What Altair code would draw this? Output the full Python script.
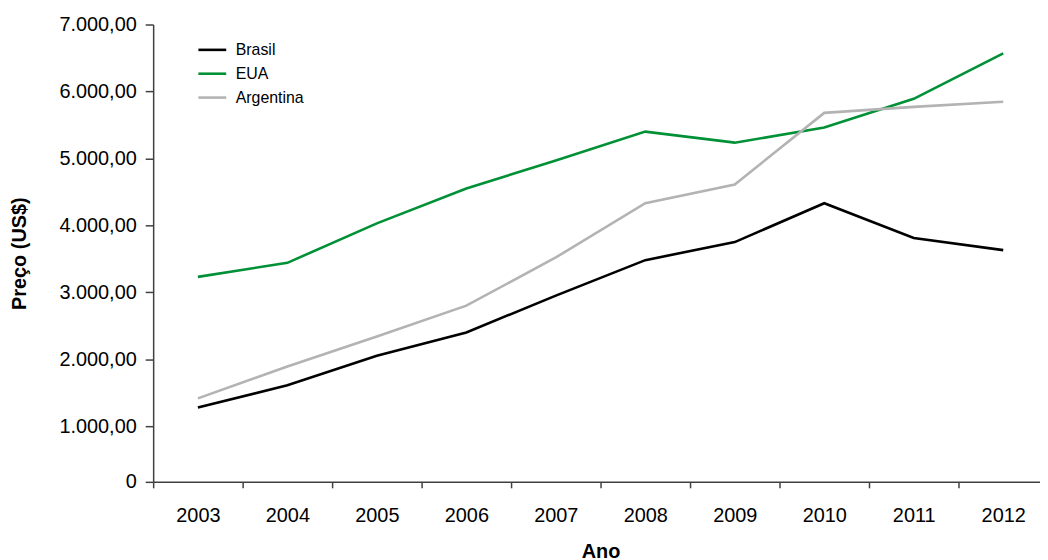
import altair as alt
import pandas as pd

anos = ["2003", "2004", "2005", "2006", "2007", "2008", "2009", "2010", "2011", "2012"]
brasil = [1280, 1610, 2050, 2400, 2950, 3480, 3750, 4330, 3810, 3630]
eua = [3230, 3440, 4030, 4550, 4970, 5400, 5235, 5460, 5890, 6570]
argentina = [1415, 1890, 2340, 2800, 3520, 4330, 4610, 5680, 5770, 5845]

series = ["Brasil", "EUA", "Argentina"]
cores = ["#000000", "#009036", "#b3b3b3"]

rows = []
for nome, vals in zip(series, [brasil, eua, argentina]):
    for a, v in zip(anos, vals):
        rows.append({"Ano": a, "Preço": v, "Série": nome})
df = pd.DataFrame(rows)

y_ticks = [168, 1000, 2000, 3000, 4000, 5000, 6000, 7000]

label_expr = (
    "datum.value < 500 ? '0' : "
    "replace(replace(replace(format(datum.value, ',.2f'), ',', '_'), '.', ','), '_', '.')"
)

chart = (
    alt.Chart(df)
    .mark_line(strokeWidth=2.6)
    .encode(
        x=alt.X(
            "Ano:O",
            sort=anos,
            scale=alt.Scale(type="band", range=[0, 900], paddingInner=0, paddingOuter=0),
            axis=alt.Axis(
                title="Ano",
                labelAngle=0,
                tickBand="extent",
                tickSize=6,
                labelPadding=18,
                titlePadding=16,
                labelFontSize=20,
                titleFontSize=20,
                titleFontWeight="bold",
                titleAnchor="middle",
            ),
        ),
        y=alt.Y(
            "Preço:Q",
            scale=alt.Scale(domain=[168, 7000], nice=False, zero=False),
            axis=alt.Axis(
                title="Preço (US$)",
                values=y_ticks,
                labelExpr=label_expr,
                grid=False,
                tickSize=8,
                labelPadding=9,
                titlePadding=30,
                labelFontSize=20,
                titleFontSize=20,
                titleFontWeight="bold",
            ),
        ),
        color=alt.Color(
            "Série:N",
            sort=series,
            scale=alt.Scale(domain=series, range=cores),
            legend=alt.Legend(
                title=None,
                orient="none",
                legendX=44,
                legendY=10,
                symbolType="stroke",
                symbolSize=784,
                symbolStrokeWidth=2.6,
                labelFontSize=16,
                rowPadding=0,
                labelOffset=8,
            ),
        ),
    )
    .properties(
        width=892,
        height=460,
        autosize=alt.AutoSizeParams(type="none"),
        padding={"left": 146, "top": 15, "right": 0, "bottom": 76},
    )
    .configure(font="Liberation Sans")
    .configure_view(stroke=None)
    .configure_axis(
        domainColor="#404040",
        tickColor="#404040",
        labelColor="#000000",
        titleColor="#000000",
        domainWidth=1.5,
        tickWidth=1.5,
        grid=False,
    )
    .configure_legend(labelColor="#000000")
)

chart.save("out.html", embed_options={"renderer": "svg", "actions": False})
